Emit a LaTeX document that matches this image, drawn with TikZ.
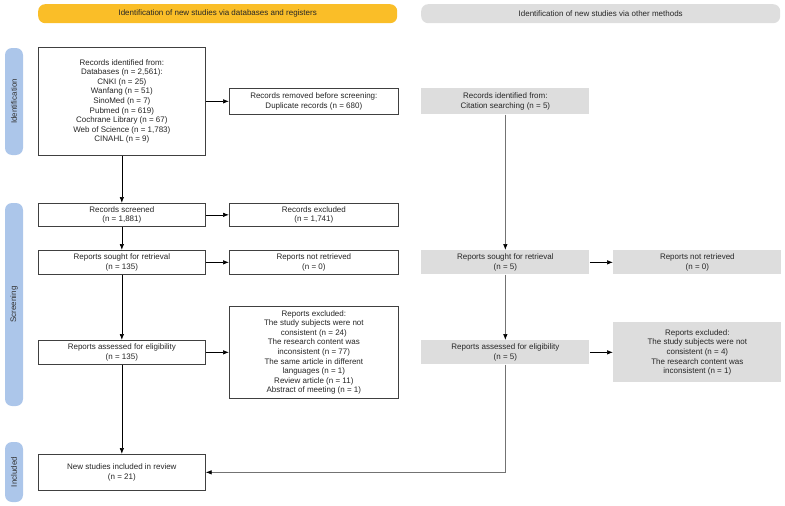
\documentclass[tikz,border=0pt]{standalone}
\usepackage{fontspec}
\setmainfont{Liberation Sans}
\usepackage{tikz}
\definecolor{headyellow}{RGB}{250,190,40}
\definecolor{headgray}{RGB}{222,222,222}
\definecolor{phaseblue}{RGB}{172,198,234}
\definecolor{boxgray}{RGB}{221,221,221}
\tikzset{
  box/.style      = {shape=rectangle, draw=black!75, line width=0.7pt,
                     fill=white, align=center, inner sep=1pt,
                     anchor=north west},
  otherbox/.style = {box, draw=none, fill=boxgray},
  header/.style   = {shape=rectangle, rounded corners=7pt, align=center,
                     anchor=north west, minimum width=359pt,
                     minimum height=19pt},
  phase/.style    = {shape=rectangle, rounded corners=7pt, fill=phaseblue,
                     rotate=90, minimum height=18pt, text=black!80}
}
\usetikzlibrary{positioning,arrows.meta}

\begin{document}
\begin{tikzpicture}
  [
    x                 = 1pt,
    y                 = -1pt,
    every node/.style = {font=\fontsize{8}{9.6}\selectfont, text=black!85},
    tip/.style        = {-{Latex[length=6pt,width=4.5pt,color=black]},
                         line width=0.7pt}
  ]
  \useasboundingbox (0,0) rectangle (785,506);

  % headers and phases
  \node [header, fill=headyellow] (h0) at (38,4)
    {Identification of new studies via databases and registers};
  \node [header, fill=headgray] (h1) at (421,4)
    {Identification of new studies via other methods};
  \node [phase, minimum width=107pt] (p0) at (14,101.5) {Identification};
  \node [phase, minimum width=203pt] (p1) at (14,304.5) {Screening};
  \node [phase, minimum width=60pt]  (p2) at (14,472)   {Included};

  % databases and registers
  \node [box, minimum width=167pt, minimum height=108pt] (0) at (38,47)
    {Records identified from:\\Databases (n = 2,561):\\CNKI (n = 25)\\
     Wanfang (n = 51)\\SinoMed (n = 7)\\Pubmed (n = 619)\\
     Cochrane Library (n = 67)\\Web of Science (n = 1,783)\\CINAHL (n = 9)};
  \node [box, minimum width=169pt, minimum height=26pt] (1) at (229,88)
    {Records removed before screening:\\Duplicate records (n = 680)};
  \node [box, minimum width=167pt, minimum height=23pt] (3) at (38,203)
    {Records screened\\(n = 1,881)};
  \node [box, minimum width=169pt, minimum height=23pt] (4) at (229,203)
    {Records excluded\\(n = 1,741)};
  \node [box, minimum width=167pt, minimum height=24pt] (5) at (38,250)
    {Reports sought for retrieval\\(n = 135)};
  \node [box, minimum width=169pt, minimum height=24pt] (6) at (229,250)
    {Reports not retrieved\\(n = 0)};
  \node [box, minimum width=167pt, minimum height=24pt] (7) at (38,340)
    {Reports assessed for eligibility\\(n = 135)};
  \node [box, minimum width=169pt, minimum height=92pt] (8) at (229,306)
    {Reports excluded:\\The study subjects were not\\consistent (n = 24)\\
     The research content was\\inconsistent (n = 77)\\
     The same article in different\\languages (n = 1)\\
     Review article (n = 11)\\Abstract of meeting (n = 1)};
  \node [box, minimum width=167pt, minimum height=36pt] (13) at (38,454)
    {New studies included in review\\(n = 21)};

  % other methods
  \node [otherbox, minimum width=168pt, minimum height=26pt] (2) at (421,88)
    {Records identified from:\\Citation searching (n = 5)};
  \node [otherbox, minimum width=168pt, minimum height=24pt] (9) at (421,250)
    {Reports sought for retrieval\\(n = 5)};
  \node [otherbox, minimum width=168pt, minimum height=24pt] (10) at (613,250)
    {Reports not retrieved\\(n = 0)};
  \node [otherbox, minimum width=168pt, minimum height=24pt] (11) at (421,340)
    {Reports assessed for eligibility\\(n = 5)};
  \node [otherbox, minimum width=168pt, minimum height=60pt] (12) at (613,322)
    {Reports excluded:\\The study subjects were not\\consistent (n = 4)\\
     The research content was\\inconsistent (n = 1)};

  \path [tip]
    (0) edge (1)
    (0) edge (3)
    (3) edge (4)
    (3) edge (5)
    (5) edge (6)
    (5) edge (7)
    (7) edge (8)
    (7) edge (13);
  \path [tip, draw=black!55]
    (2) edge (9)
    (9) edge [draw=black] (10)
    (9) edge (11)
    (11) edge [draw=black] (12);
  \draw [tip, black!55] (11) |- (13);

\end{tikzpicture}
\end{document}
